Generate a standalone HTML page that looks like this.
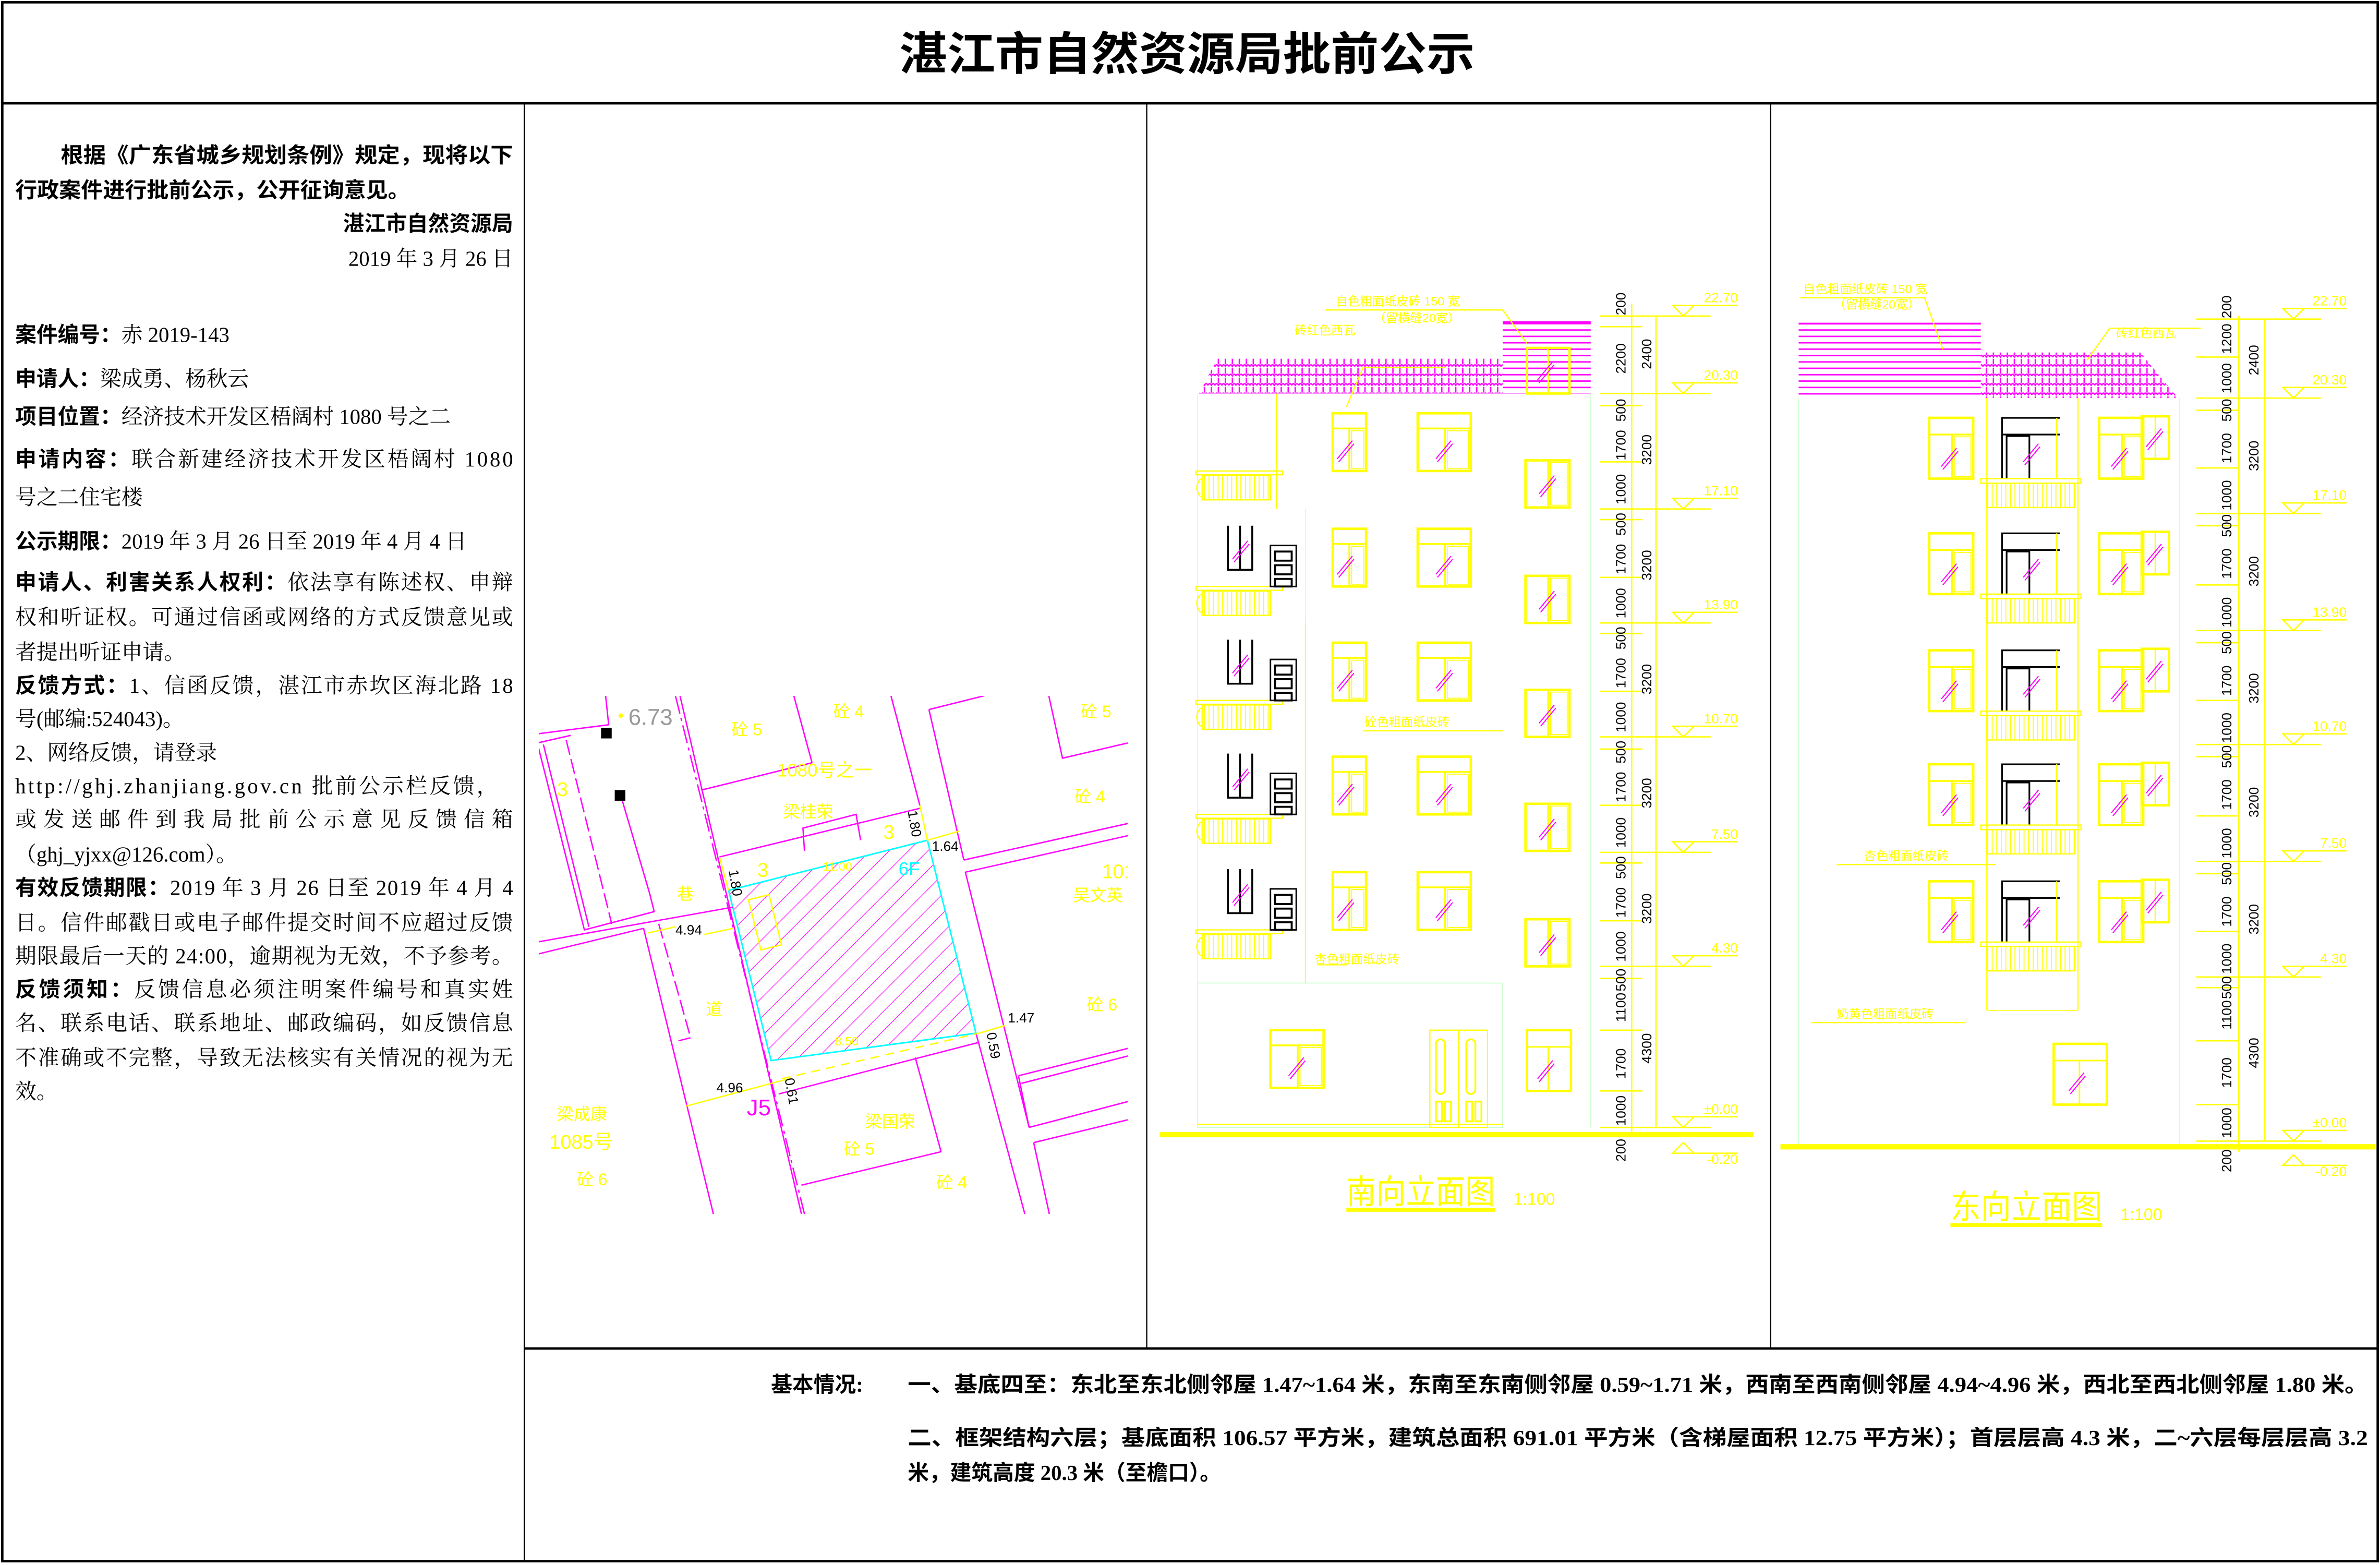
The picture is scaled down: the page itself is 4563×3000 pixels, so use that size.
<!DOCTYPE html>
<html><head><meta charset="utf-8"><style>
html,body{margin:0;padding:0;background:#fff}
svg{display:block}
.t{font-family:"Liberation Serif","Noto Serif CJK SC",serif;font-size:14px;fill:#000}
.b{font-weight:bold;font-family:"Liberation Serif","Noto Sans CJK SC",sans-serif}
.y{fill:#ffff00;font-family:"Liberation Sans","Noto Sans CJK SC",sans-serif}
.d{font-family:"Liberation Sans",sans-serif;font-size:9px;fill:#000}
</style></head><body>
<svg width="4563" height="3000" viewBox="0 0 1568 1030" preserveAspectRatio="none" xmlns="http://www.w3.org/2000/svg">
<defs>
<pattern id="tile" width="4.6" height="6.2" patternUnits="userSpaceOnUse">
<path d="M0,5.6 Q1.15,3.4 2.3,5.6 Q3.45,3.4 4.6,5.6 M2.3,4.2 V0.5" stroke="#ff00ff" stroke-width="0.9" fill="none"/>
</pattern>
<pattern id="brick" width="10" height="4.2" patternUnits="userSpaceOnUse">
<path d="M0,3 H10" stroke="#ff00ff" stroke-width="1"/>
</pattern>
<pattern id="hatch" width="9" height="9" patternUnits="userSpaceOnUse" patternTransform="rotate(45)">
<path d="M0,0 V9" stroke="#ff00ff" stroke-width="0.8"/>
</pattern>
<pattern id="rail" width="3" height="20" patternUnits="userSpaceOnUse">
<path d="M1.5,0 V20" stroke="#ffff00" stroke-width="0.6"/>
</pattern>
<g id="glass"><path d="M-5,6 L5,-6 M-4,8 L6,-4" stroke="#ff00ff" stroke-width="0.7"/></g>
<g id="wA"><rect x="0" y="0" width="22" height="38" fill="none" stroke="#ffff00" stroke-width="1.6"/><path d="M0,10 H22 M11,10 V38" stroke="#ffff00" stroke-width="1.2"/><rect x="12.5" y="11.5" width="8" height="25" fill="none" stroke="#ffff00" stroke-width="0.6"/><use href="#glass" x="8" y="24"/></g>
<g id="wB"><rect x="0" y="0" width="35" height="38" fill="none" stroke="#ffff00" stroke-width="1.6"/><path d="M0,10 H35 M18,10 V38" stroke="#ffff00" stroke-width="1.2"/><rect x="19.5" y="11.5" width="14" height="25" fill="none" stroke="#ffff00" stroke-width="0.6"/><use href="#glass" x="17" y="24"/></g>
<g id="wC"><rect x="0" y="0" width="29" height="31" fill="none" stroke="#ffff00" stroke-width="1.6"/><path d="M15,0 V31" stroke="#ffff00" stroke-width="1.2"/><rect x="16.5" y="1.5" width="11" height="28" fill="none" stroke="#ffff00" stroke-width="0.6"/><use href="#glass" x="14" y="16"/></g>
<g id="wE"><rect x="0" y="0" width="29" height="40" fill="none" stroke="#ffff00" stroke-width="1.6"/><path d="M0,11 H29 M15,11 V40" stroke="#ffff00" stroke-width="1.2"/><rect x="16.5" y="12.5" width="11" height="26" fill="none" stroke="#ffff00" stroke-width="0.6"/><use href="#glass" x="13" y="26"/></g>
<g id="wS"><rect x="0" y="0" width="18" height="28" fill="none" stroke="#ffff00" stroke-width="1.6"/><path d="M9,0 V28" stroke="#ffff00" stroke-width="1"/><use href="#glass" x="8" y="14"/></g>
<g id="sfl">
<use href="#wA" x="878" y="13"/><use href="#wB" x="934" y="13"/><use href="#wC" x="1005" y="44"/>
<rect x="788" y="51" width="57" height="2.5" fill="none" stroke="#ffff00" stroke-width="0.8"/>
<rect x="792" y="54" width="45" height="16" fill="url(#rail)" stroke="#ffff00" stroke-width="0.8"/>
<path d="M791,56 Q786,62 791,68" stroke="#ffff00" stroke-width="0.8" fill="none"/>
</g>
<g id="sblk">
<path d="M809,11 V40 H825 V11 M817,11 V40" stroke="#000" stroke-width="1.2" fill="none"/>
<use href="#glass" x="817" y="27"/>
<rect x="837" y="24" width="17" height="27" fill="none" stroke="#000" stroke-width="1"/>
<rect x="840" y="28" width="11" height="6" fill="none" stroke="#000" stroke-width="1.3"/>
<rect x="840" y="37" width="11" height="6" fill="none" stroke="#000" stroke-width="1.3"/>
<rect x="840" y="46" width="11" height="5" fill="none" stroke="#000" stroke-width="1.3"/>
</g>
<g id="efl">
<use href="#wE" x="1271" y="13"/><use href="#wE" x="1383" y="13"/><use href="#wS" x="1411" y="12"/>
<path d="M1319,53 V13 H1357 M1319,24 H1357 M1322,53 V25 H1337 V53" stroke="#000" stroke-width="1.1" fill="none"/>
<path d="M1355,13 V53" stroke="#ffff00" stroke-width="0.8"/>
<use href="#glass" x="1338" y="36"/>
<rect x="1305" y="53" width="66" height="3" fill="none" stroke="#ffff00" stroke-width="0.8"/>
<rect x="1309" y="56" width="58" height="16" fill="url(#rail)" stroke="#ffff00" stroke-width="0.8"/>
</g>
<clipPath id="site"><rect x="355" y="458" width="388" height="341"/></clipPath>
</defs>

<g stroke="#000" fill="none">
<rect x="1.5" y="1.5" width="1565" height="1026" stroke-width="1.6"/>
<path d="M1,68 H1567" stroke-width="1.6"/>
<path d="M345.5,68 V1028" stroke-width="1"/>
<path d="M755.5,68 V887 M1166.5,68 V887" stroke-width="0.8"/>
<path d="M345,887.5 H1567" stroke-width="1.6"/>
</g>

<text x="782" y="46" text-anchor="middle" class="t b" style="font-size:30px" textLength="379" lengthAdjust="spacingAndGlyphs">湛江市自然资源局批前公示</text>

<g class="t">
<text x="40" y="107" class="b" textLength="298" lengthAdjust="spacingAndGlyphs">根据《广东省城乡规划条例》规定，现将以下</text>
<text x="10" y="130" class="b" textLength="260" lengthAdjust="spacingAndGlyphs">行政案件进行批前公示，公开征询意见。</text>
<text x="338" y="152" class="b" text-anchor="end">湛江市自然资源局</text>
<text x="338" y="175" text-anchor="end">2019 年 3 月 26 日</text>
<text x="10" y="225"><tspan class="b">案件编号：</tspan>赤 2019-143</text>
<text x="10" y="254"><tspan class="b">申请人：</tspan>梁成勇、杨秋云</text>
<text x="10" y="279"><tspan class="b">项目位置：</tspan>经济技术开发区梧阔村 1080 号之二</text>
<text x="10" y="307" textLength="328"><tspan class="b">申请内容：</tspan>联合新建经济技术开发区梧阔村 1080</text>
<text x="10" y="332">号之二住宅楼</text>
<text x="10" y="361"><tspan class="b">公示期限：</tspan>2019 年 3 月 26 日至 2019 年 4 月 4 日</text>
<text x="10" y="388" textLength="328"><tspan class="b">申请人、利害关系人权利：</tspan>依法享有陈述权、申辩</text>
<text x="10" y="411" textLength="328">权和听证权。可通过信函或网络的方式反馈意见或</text>
<text x="10" y="434">者提出听证申请。</text>
<text x="10" y="456" textLength="328"><tspan class="b">反馈方式：</tspan>1、信函反馈，湛江市赤坎区海北路 18</text>
<text x="10" y="478">号(邮编:524043)。</text>
<text x="10" y="500">2、网络反馈，请登录</text>
<text x="10" y="522" textLength="318">http://ghj.zhanjiang.gov.cn 批前公示栏反馈，</text>
<text x="10" y="544" textLength="328">或发送邮件到我局批前公示意见反馈信箱</text>
<text x="10" y="567">（ghj_yjxx@126.com）。</text>
<text x="10" y="589" textLength="328"><tspan class="b">有效反馈期限：</tspan>2019 年 3 月 26 日至 2019 年 4 月 4</text>
<text x="10" y="612" textLength="328">日。信件邮戳日或电子邮件提交时间不应超过反馈</text>
<text x="10" y="634" textLength="328">期限最后一天的 24:00，逾期视为无效，不予参考。</text>
<text x="10" y="656" textLength="328"><tspan class="b">反馈须知：</tspan>反馈信息必须注明案件编号和真实姓</text>
<text x="10" y="678" textLength="328">名、联系电话、联系地址、邮政编码，如反馈信息</text>
<text x="10" y="701" textLength="328">不准确或不完整，导致无法核实有关情况的视为无</text>
<text x="10" y="723">效。</text>
</g>

<g class="t b">
<text x="508" y="916">基本情况:</text>
<text x="598" y="916" textLength="962" lengthAdjust="spacingAndGlyphs">一、基底四至：东北至东北侧邻屋 1.47~1.64 米，东南至东南侧邻屋 0.59~1.71 米，西南至西南侧邻屋 4.94~4.96 米，西北至西北侧邻屋 1.80 米。</text>
<text x="598" y="951" textLength="962" lengthAdjust="spacingAndGlyphs">二、框架结构六层；基底面积 106.57 平方米，建筑总面积 691.01 平方米（含梯屋面积 12.75 平方米）；首层层高 4.3 米，二~六层每层层高 3.2</text>
<text x="598" y="974">米，建筑高度 20.3 米（至檐口）。</text>
</g>

<g clip-path="url(#site)">
<polygon points="480,586 611,553 643,680 508,698" fill="url(#hatch)" stroke="#00ffff" stroke-width="1"/>
<g stroke="#ff00ff" stroke-width="0.9" fill="none">
<path d="M448,458 L528,799"/>
<path d="M445,458 L530,799" stroke-dasharray="12,3,2,3"/>
<path d="M424,611 L470,799"/>
<path d="M354,489 L385,612 L431,600 L428,588 L410,527"/>
<path d="M358,490 L388,610"/>
<path d="M354,620 L483,597 M354,628 L424,611"/>
<path d="M354,483 L401,477 L399,458 M354,489 L376,484"/>
<path d="M373,487 L403,608" stroke-dasharray="10,3"/>
<path d="M434,608 L455,683 L447,685" stroke-dasharray="10,3"/>
<path d="M587,458 L606,530 M612,467 L635,566 M612,467 L648,458 M635,566 L743,542 M636,574 L743,550 M636,574 L678,742"/>
<path d="M643,680 L676,802 M671,708 L743,690 M673,713 L743,695 M671,708 L678,742 M678,742 L743,725 M681,752 L743,737 M681,752 L692,802"/>
<path d="M691,458 L700,499 L743,489"/>
<path d="M523,458 L535,502 M462,520 L535,502 M474,564 L606,532"/>
<path d="M530,560 L529,545 L564,536 L567,553"/>
<path d="M513,720 L645,686 M603,696 L620,758 M528,780 L620,758"/>
</g>
<g stroke="#ffff00" stroke-width="0.9" fill="none">
<path d="M464,615 L483,611 M427,614 L445,610"/>
<path d="M452,728 L512,712 L520,710"/>
<path d="M515,710 L645,680" stroke-dasharray="6,4"/>
<path d="M645,680 L662,675"/>
<path d="M606,530 L611,553 L632,547"/>
<path d="M474,564 L480,586"/>
<rect x="497" y="590" width="14" height="34" transform="rotate(-14 504 607)"/>
</g>
<rect x="396" y="479" width="7" height="7" fill="#000"/>
<rect x="405" y="520" width="7" height="7" fill="#000"/>
<circle cx="409" cy="471" r="1.5" fill="#ffff00"/>
<g class="y" style="font-size:11px">
<text x="414" y="477" style="fill:#999;font-size:15px">6.73</text>
<text x="482" y="484">砼 5</text><text x="549" y="472">砼 4</text><text x="712" y="472">砼 5</text>
<text x="512" y="511" style="font-size:12px">1080号之一</text>
<text x="516" y="538">梁桂荣</text>
<text x="582" y="552" style="font-size:13px">3</text><text x="499" y="577" style="font-size:13px">3</text>
<text x="708" y="528">砼 4</text><text x="726" y="578" style="font-size:13px">101</text>
<text x="707" y="593">吴文英</text><text x="446" y="592">巷</text><text x="465" y="668">道</text>
<text x="367" y="524" style="font-size:13px">3</text>
<text x="716" y="665">砼 6</text><text x="570" y="742">梁国荣</text>
<text x="556" y="760">砼 5</text><text x="617" y="782">砼 4</text>
<text x="367" y="737">梁成康</text><text x="362" y="756" style="font-size:13px">1085号</text>
<text x="380" y="780">砼 6</text>
<text x="542" y="573" style="font-size:8px">11.00</text>
<text x="550" y="688" style="font-size:8px">8.50</text>
</g>
<text x="592" y="576" style="font-family:'Liberation Sans';font-size:12px;fill:#00ffff">6F</text>
<text x="492" y="734" style="font-family:'Liberation Sans';font-size:15px;fill:#ff00ff">J5</text>
<g style="font-family:'Liberation Sans';font-size:9px;fill:#000">
<text x="445" y="615">4.94</text><text x="472" y="719">4.96</text>
<text x="614" y="560">1.64</text><text x="664" y="673">1.47</text>
<text transform="translate(480,573) rotate(80)">1.80</text>
<text transform="translate(598,534) rotate(80)">1.80</text>
<text transform="translate(650,680) rotate(80)">0.59</text>
<text transform="translate(517,710) rotate(80)">0.61</text>
</g>
</g>

<g>
<path d="M789,259 V742 M841,259 V335 M860,335 V647 M1048,259 V742" stroke="#ccffcc" stroke-width="0.5"/>
<path d="M841,259 V335" stroke="#ffff00" stroke-width="0.6"/>
<path d="M860,410 V647" stroke="#ffff00" stroke-width="0.6"/>
<polygon points="790,259 802,236 990,236 990,259" fill="url(#tile)"/>
<rect x="990" y="210" width="58" height="49" fill="url(#brick)"/>
<path d="M990,212 H1048" stroke="#ff00ff" stroke-width="1.2"/>
<rect x="1006" y="229" width="28" height="30" fill="none" stroke="#ffff00" stroke-width="1.6"/>
<path d="M1020,229 V259" stroke="#ffff00"/><use href="#glass" x="1018" y="244"/>
<use href="#sfl" y="259"/><use href="#sfl" y="335"/><use href="#sfl" y="410"/><use href="#sfl" y="485"/><use href="#sfl" y="561"/>
<use href="#sblk" y="335"/><use href="#sblk" y="410"/><use href="#sblk" y="485"/><use href="#sblk" y="561"/>
<rect x="789" y="647" width="201" height="95" fill="none" stroke="#ccffcc" stroke-width="0.6"/>
<use href="#wB" x="837" y="678"/>
<rect x="1006" y="678" width="29" height="40" fill="none" stroke="#ffff00" stroke-width="1.6"/>
<path d="M1006,689 H1035 M1020,689 V718" stroke="#ffff00"/><use href="#glass" x="1018" y="704"/>
<rect x="942" y="678" width="38" height="64" fill="none" stroke="#ffff00" stroke-width="0.8"/>
<path d="M961,678 V742" stroke="#ffff00" stroke-width="0.8"/>
<g fill="none" stroke="#ffff00" stroke-width="1.2">
<rect x="946" y="684" width="6" height="36" rx="3"/>
<rect x="966" y="684" width="6" height="36" rx="3"/>
<rect x="946" y="725" width="4" height="13"/><rect x="952" y="725" width="4" height="13"/>
<rect x="966" y="725" width="4" height="13"/><rect x="972" y="725" width="4" height="13"/>
</g>
<path d="M789,740 H990" stroke="#ffff00" stroke-width="0.8"/>
<rect x="764" y="745" width="391" height="3.5" fill="#ffff00"/>
<g stroke="#ffff00" stroke-width="0.8" fill="none">
<path d="M873,204 H990 L1006,226"/><path d="M952,242 H898 L887,268"/>
<path d="M898,481 H990"/><path d="M868,635 H888"/>
</g>
<g class="y" style="font-size:8px">
<text x="880" y="201">自色粗面纸皮砖 150 宽</text>
<text x="905" y="212">（留横缝20宽）</text>
<text x="853" y="220">砖红色西瓦</text>
<text x="899" y="478">砼色粗面纸皮砖</text>
<text x="866" y="634">杏色粗面纸皮砖</text>
</g>
<g stroke="#ffff00" stroke-width="0.9" fill="none">
<path d="M1075,200 V747 M1091,208 V742"/>
<path d="M1054,208 H1127 M1054,215 H1082 M1054,259 H1127 M1054,636 H1127 M1054,742 H1127"/>
<path d="M1054,335 H1127 M1054,410 H1127 M1054,485 H1127 M1054,561 H1127"/>
<path d="M1054,267 H1082 M1054,304 H1082 M1054,342 H1082 M1054,380 H1082 M1054,417 H1082 M1054,455 H1082 M1054,493 H1082 M1054,530 H1082 M1054,568 H1082 M1054,606 H1082 M1054,644 H1082 M1054,678 H1082 M1054,718 H1082"/>
<path d="M1102,201 L1116,201 L1109,208 Z M1102,252 L1116,252 L1109,259 Z M1102,328 L1116,328 L1109,335 Z M1102,403 L1116,403 L1109,410 Z M1102,478 L1116,478 L1109,485 Z M1102,554 L1116,554 L1109,561 Z M1102,629 L1116,629 L1109,636 Z M1102,735 L1116,735 L1109,742 Z M1102,759 L1116,759 L1109,752 Z"/>
<path d="M1116,201 H1145 M1116,252 H1145 M1116,328 H1145 M1116,403 H1145 M1116,478 H1145 M1116,554 H1145 M1116,629 H1145 M1116,735 H1145 M1116,759 H1145"/>
</g>
<g class="y" style="font-size:9px" text-anchor="end">
<text x="1145" y="199">22.70</text><text x="1145" y="250">20.30</text><text x="1145" y="326">17.10</text>
<text x="1145" y="401">13.90</text><text x="1145" y="476">10.70</text><text x="1145" y="552">7.50</text>
<text x="1145" y="627">4.30</text><text x="1145" y="733">±0.00</text><text x="1145" y="766">-0.20</text>
</g>
<g class="d" text-anchor="middle">
<text transform="translate(1071,200) rotate(-90)">200</text>
<text transform="translate(1071,236) rotate(-90)">2200</text>
<text transform="translate(1088,233) rotate(-90)">2400</text>
<text transform="translate(1071,270) rotate(-90)">500</text><text transform="translate(1071,293) rotate(-90)">1700</text><text transform="translate(1071,322) rotate(-90)">1000</text><text transform="translate(1088,296) rotate(-90)">3200</text>
<text transform="translate(1071,345) rotate(-90)">500</text><text transform="translate(1071,368) rotate(-90)">1700</text><text transform="translate(1071,397) rotate(-90)">1000</text><text transform="translate(1088,372) rotate(-90)">3200</text>
<text transform="translate(1071,420) rotate(-90)">500</text><text transform="translate(1071,443) rotate(-90)">1700</text><text transform="translate(1071,472) rotate(-90)">1000</text><text transform="translate(1088,447) rotate(-90)">3200</text>
<text transform="translate(1071,495) rotate(-90)">500</text><text transform="translate(1071,518) rotate(-90)">1700</text><text transform="translate(1071,548) rotate(-90)">1000</text><text transform="translate(1088,522) rotate(-90)">3200</text>
<text transform="translate(1071,571) rotate(-90)">500</text><text transform="translate(1071,594) rotate(-90)">1700</text><text transform="translate(1071,623) rotate(-90)">1000</text><text transform="translate(1088,598) rotate(-90)">3200</text>
<text transform="translate(1071,645) rotate(-90)">500</text><text transform="translate(1071,663) rotate(-90)">1100</text><text transform="translate(1071,700) rotate(-90)">1700</text><text transform="translate(1071,731) rotate(-90)">1000</text><text transform="translate(1071,757) rotate(-90)">200</text><text transform="translate(1088,690) rotate(-90)">4300</text>
</g>
<text x="887" y="792" class="y" style="font-size:22px" textLength="98" lengthAdjust="spacingAndGlyphs">南向立面图</text>
<rect x="887" y="795" width="98" height="2.5" fill="#ffff00"/>
<text x="997" y="793" class="y" style="font-size:11px">1:100</text>
</g>

<g>
<path d="M1185,262 V755 M1436,262 V755" stroke="#ccffcc" stroke-width="0.5"/>
<rect x="1185" y="212" width="120" height="50" fill="url(#brick)"/>
<path d="M1185,213 H1305" stroke="#ff00ff" stroke-width="1.2"/>
<polygon points="1305,262 1305,232 1410,232 1435,262" fill="url(#tile)"/>
<path d="M1309,262 V665 M1369,262 V665" stroke="#ffff00" stroke-width="0.8"/>
<use href="#efl" y="262"/><use href="#efl" y="338"/><use href="#efl" y="415"/><use href="#efl" y="490"/><use href="#efl" y="567"/>
<path d="M1309,665 H1369" stroke="#ffff00" stroke-width="0.5"/>
<rect x="1353" y="687" width="35" height="40" fill="none" stroke="#ffff00" stroke-width="1.6"/>
<path d="M1353,698 H1388 M1370,698 V727" stroke="#ffff00"/><use href="#glass" x="1368" y="712"/>
<rect x="1173" y="753" width="392" height="3.5" fill="#ffff00"/>
<g stroke="#ffff00" stroke-width="0.8" fill="none">
<path d="M1186,196 H1268 L1280,230"/><path d="M1450,216 H1390 L1375,237"/>
<path d="M1210,569 H1315"/><path d="M1193,673 H1295"/>
</g>
<g class="y" style="font-size:8px">
<text x="1188" y="193">自色粗面纸皮砖 150 宽</text>
<text x="1208" y="203">（留横缝20宽）</text>
<text x="1394" y="222">砖红色西瓦</text>
<text x="1228" y="566">杏色粗面纸皮砖</text>
<text x="1210" y="670">奶黄色粗面纸皮砖</text>
</g>
<g stroke="#ffff00" stroke-width="0.9" fill="none">
<path d="M1475,208 V758 M1492,210 V751"/>
<path d="M1447,210 H1529 M1447,262 H1529 M1447,338 H1529 M1447,415 H1529 M1447,490 H1529 M1447,567 H1529 M1447,643 H1529 M1447,751 H1529"/>
<path d="M1447,235 H1475 M1447,270 H1475 M1447,308 H1475 M1447,346 H1475 M1447,385 H1475 M1447,423 H1475 M1447,461 H1475 M1447,498 H1475 M1447,537 H1475 M1447,575 H1475 M1447,613 H1475 M1447,650 H1475 M1447,685 H1475 M1447,727 H1475"/>
<path d="M1504,203 L1518,203 L1511,210 Z M1504,255 L1518,255 L1511,262 Z M1504,331 L1518,331 L1511,338 Z M1504,408 L1518,408 L1511,415 Z M1504,483 L1518,483 L1511,490 Z M1504,560 L1518,560 L1511,567 Z M1504,636 L1518,636 L1511,643 Z M1504,744 L1518,744 L1511,751 Z M1504,767 L1518,767 L1511,760 Z"/>
<path d="M1518,203 H1546 M1518,255 H1546 M1518,331 H1546 M1518,408 H1546 M1518,483 H1546 M1518,560 H1546 M1518,636 H1546 M1518,744 H1546 M1518,767 H1546"/>
</g>
<g class="y" style="font-size:9px" text-anchor="end">
<text x="1546" y="201">22.70</text><text x="1546" y="253">20.30</text><text x="1546" y="329">17.10</text>
<text x="1546" y="406">13.90</text><text x="1546" y="481">10.70</text><text x="1546" y="558">7.50</text>
<text x="1546" y="634">4.30</text><text x="1546" y="742">±0.00</text><text x="1546" y="774">-0.20</text>
</g>
<g class="d" text-anchor="middle">
<text transform="translate(1470,202) rotate(-90)">200</text>
<text transform="translate(1470,223) rotate(-90)">1200</text>
<text transform="translate(1470,249) rotate(-90)">1000</text>
<text transform="translate(1488,237) rotate(-90)">2400</text>
<text transform="translate(1470,270) rotate(-90)">500</text><text transform="translate(1470,295) rotate(-90)">1700</text><text transform="translate(1470,326) rotate(-90)">1000</text><text transform="translate(1488,300) rotate(-90)">3200</text>
<text transform="translate(1470,346) rotate(-90)">500</text><text transform="translate(1470,371) rotate(-90)">1700</text><text transform="translate(1470,403) rotate(-90)">1000</text><text transform="translate(1488,376) rotate(-90)">3200</text>
<text transform="translate(1470,423) rotate(-90)">500</text><text transform="translate(1470,448) rotate(-90)">1700</text><text transform="translate(1470,479) rotate(-90)">1000</text><text transform="translate(1488,453) rotate(-90)">3200</text>
<text transform="translate(1470,498) rotate(-90)">500</text><text transform="translate(1470,523) rotate(-90)">1700</text><text transform="translate(1470,555) rotate(-90)">1000</text><text transform="translate(1488,528) rotate(-90)">3200</text>
<text transform="translate(1470,575) rotate(-90)">500</text><text transform="translate(1470,600) rotate(-90)">1700</text><text transform="translate(1470,631) rotate(-90)">1000</text><text transform="translate(1488,605) rotate(-90)">3200</text>
<text transform="translate(1470,650) rotate(-90)">500</text><text transform="translate(1470,668) rotate(-90)">1100</text><text transform="translate(1470,706) rotate(-90)">1700</text><text transform="translate(1470,739) rotate(-90)">1000</text><text transform="translate(1470,764) rotate(-90)">200</text><text transform="translate(1488,693) rotate(-90)">4300</text>
</g>
<text x="1285" y="802" class="y" style="font-size:22px" textLength="100" lengthAdjust="spacingAndGlyphs">东向立面图</text>
<rect x="1285" y="805" width="100" height="2.5" fill="#ffff00"/>
<text x="1397" y="803" class="y" style="font-size:11px">1:100</text>
</g>
</svg>
</body></html>
